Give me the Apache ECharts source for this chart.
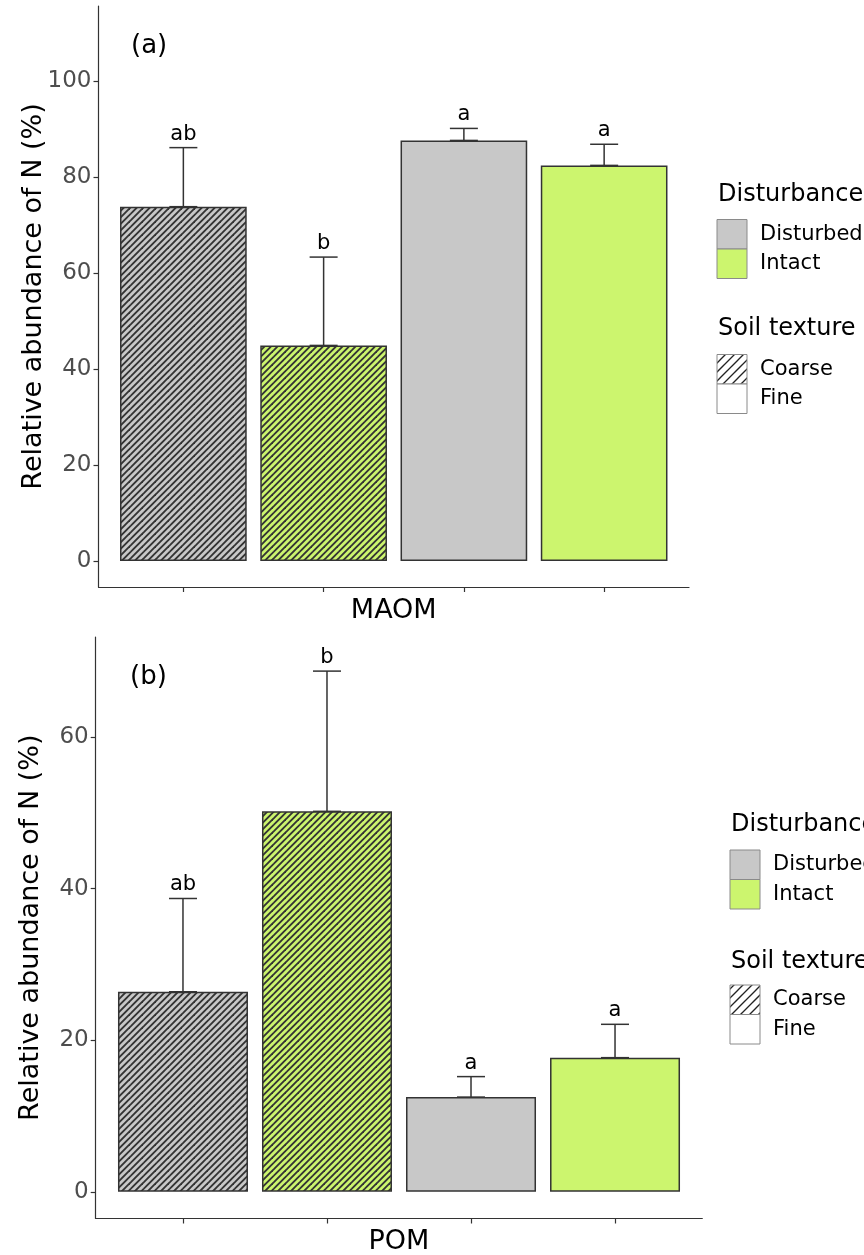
<!DOCTYPE html>
<html><head><meta charset="utf-8">
<script src="https://cdn.jsdelivr.net/npm/echarts@6/dist/echarts.min.js"></script>
<style>html,body{margin:0;padding:0;background:#fff}#c{width:864px;height:1255px}</style>
</head><body><div id="c"></div>
<script>
// ---- data ----
const positions = [1, 2, 3, 4];
const disturbance = ['Disturbed', 'Intact', 'Disturbed', 'Intact'];
const texture = ['Coarse', 'Coarse', 'Fine', 'Fine'];
const maomMean = [73.8, 44.9, 87.6, 82.4];
const maomUpper = [86.1, 63.3, 90.1, 86.8];
const maomLetters = ['ab', 'b', 'a', 'a'];
const pomMean = [26.4, 50.2, 12.5, 17.7];
const pomUpper = [38.7, 68.7, 15.2, 22.1];
const pomLetters = ['ab', 'b', 'a', 'a'];
const maomTicks = [0, 20, 40, 60, 80, 100];
const pomTicks = [0, 20, 40, 60];
const legendDist = ['Disturbed', 'Intact'];
const legendTex = ['Coarse', 'Fine'];

// ---- style ----
const FONT = 'DejaVu Sans';
const fillCol = { Disturbed: '#C8C8C8', Intact: '#CCF56E' };
const AX = '#333333';

function hatch(bg, size, gap, lw, col) {
  const c = document.createElement('canvas');
  c.width = size; c.height = size;
  const g = c.getContext('2d');
  g.fillStyle = bg; g.fillRect(0, 0, size, size);
  g.strokeStyle = col; g.lineWidth = lw;
  for (let k = -size; k <= size + 0.01; k += gap) {
    g.beginPath(); g.moveTo(k - 2, size + 2); g.lineTo(k + size + 2, -2); g.stroke();
  }
  return c;
}
const hatchCanvas = {
  Disturbed: hatch(fillCol.Disturbed, 13, 6.5, 1.9, '#333'),
  Intact: hatch(fillCol.Intact, 13, 6.5, 1.9, '#333')
};
const keyHatch = hatch('#ffffff', 18, 9, 1.3, '#222');

function barItems(means) {
  return means.map((v, i) => ({
    value: [positions[i], v],
    itemStyle: {
      color: texture[i] === 'Coarse'
        ? { image: hatchCanvas[disturbance[i]], repeat: 'repeat' }
        : fillCol[disturbance[i]],
      borderColor: AX, borderWidth: 1.5
    }
  }));
}
function errData(means, uppers) {
  return means.map((v, i) => [positions[i], v, uppers[i]]);
}
function errRender(letters) {
  return function (params, api) {
    const x = api.value(0), m = api.value(1), u = api.value(2);
    const pm = api.coord([x, m]), pu = api.coord([x, u]);
    const hw = 14;
    const st = { stroke: AX, lineWidth: 1.5 };
    return {
      type: 'group', children: [
        { type: 'line', shape: { x1: pm[0], y1: pm[1], x2: pu[0], y2: pu[1] }, style: st },
        { type: 'line', shape: { x1: pm[0] - hw, y1: pm[1], x2: pm[0] + hw, y2: pm[1] }, style: st },
        { type: 'line', shape: { x1: pu[0] - hw, y1: pu[1], x2: pu[0] + hw, y2: pu[1] }, style: st },
        { type: 'text', x: pu[0], y: pu[1] - 3,
          style: { text: letters[params.dataIndex], fill: '#000', fontSize: 21, fontFamily: FONT,
                   align: 'center', verticalAlign: 'bottom' } }
      ]
    };
  };
}

function xAx(gi, name, min, max) {
  return {
    type: 'value', gridIndex: gi, min: min, max: max,
    axisLine: { show: true, onZero: false, lineStyle: { color: AX, width: 1.2 } },
    axisTick: { show: true, customValues: positions, length: 5, lineStyle: { color: AX, width: 1.2 } },
    axisLabel: { show: false },
    splitLine: { show: false },
    name: name, nameLocation: 'middle', nameGap: 10, nameMoveOverlap: false,
    nameTextStyle: { fontFamily: FONT, fontSize: 27, color: '#000' }
  };
}
function yAx(gi, min, max, ticks) {
  return {
    type: 'value', gridIndex: gi, min: min, max: max,
    axisLine: { show: true, onZero: false, lineStyle: { color: AX, width: 1.2 } },
    axisTick: { show: true, customValues: ticks, length: 5, lineStyle: { color: AX, width: 1.2 } },
    axisLabel: { customValues: ticks, fontFamily: FONT, fontSize: 23, color: '#4d4d4d', margin: 7 },
    splitLine: { show: false },
    name: 'Relative abundance of N (%)', nameLocation: 'middle', nameGap: 51, nameMoveOverlap: false,
    nameTextStyle: { fontFamily: FONT, fontSize: 27, color: '#000' }
  };
}

function legend(x0, yTitle1, yKey1, yTitle2, yKey2) {
  const els = [];
  const kw = 30, kh = 29.5, lx = x0 + 43;
  els.push({ type: 'text', x: x0 + 1, y: yTitle1, style: { text: 'Disturbance', fontFamily: FONT, fontSize: 24, fill: '#000', verticalAlign: 'middle' } });
  legendDist.forEach((d, i) => {
    els.push({ type: 'rect', shape: { x: x0, y: yKey1 + i * kh, width: kw, height: kh }, style: { fill: fillCol[d], stroke: '#8a8a8a', lineWidth: 1 } });
    els.push({ type: 'text', x: lx, y: yKey1 + i * kh + kh / 2, style: { text: d, fontFamily: FONT, fontSize: 21, fill: '#000', verticalAlign: 'middle' } });
  });
  els.push({ type: 'text', x: x0 + 1, y: yTitle2, style: { text: 'Soil texture', fontFamily: FONT, fontSize: 24, fill: '#000', verticalAlign: 'middle' } });
  legendTex.forEach((t, i) => {
    els.push({ type: 'rect', shape: { x: x0, y: yKey2 + i * kh, width: kw, height: kh },
      style: { fill: t === 'Coarse' ? { image: keyHatch, repeat: 'repeat' } : '#ffffff', stroke: '#8a8a8a', lineWidth: 1 } });
    els.push({ type: 'text', x: lx, y: yKey2 + i * kh + kh / 2, style: { text: t, fontFamily: FONT, fontSize: 21, fill: '#000', verticalAlign: 'middle' } });
  });
  return els;
}

const chart = echarts.init(document.getElementById('c'), null, { renderer: 'canvas' });
chart.setOption({
  backgroundColor: '#ffffff',
  animation: false,
  grid: [
    { left: 98.5, top: 6, width: 590.5, height: 581, containLabel: false, outerBoundsMode: 'none' },
    { left: 95.7, top: 637, width: 606.6, height: 581.5, containLabel: false, outerBoundsMode: 'none' }
  ],
  xAxis: [xAx(0, 'MAOM', 0.395, 4.605), xAx(1, 'POM', 0.394, 4.606)],
  yAxis: [yAx(0, -5.42, 115.6, maomTicks), yAx(1, -3.52, 73.2, pomTicks)],
  series: [
    { type: 'bar', xAxisIndex: 0, yAxisIndex: 0, barWidth: 126.7, data: barItems(maomMean), z: 2 },
    { type: 'custom', xAxisIndex: 0, yAxisIndex: 0, data: errData(maomMean, maomUpper),
      encode: { x: 0, y: [1, 2] }, renderItem: errRender(maomLetters), z: 3 },
    { type: 'bar', xAxisIndex: 1, yAxisIndex: 1, barWidth: 130, data: barItems(pomMean), z: 2 },
    { type: 'custom', xAxisIndex: 1, yAxisIndex: 1, data: errData(pomMean, pomUpper),
      encode: { x: 0, y: [1, 2] }, renderItem: errRender(pomLetters), z: 3 }
  ],
  graphic: [
    { type: 'text', x: 131, y: 46, style: { text: '(a)', fontFamily: FONT, fontSize: 26, fill: '#000', verticalAlign: 'middle' } },
    { type: 'text', x: 130, y: 677, style: { text: '(b)', fontFamily: FONT, fontSize: 26, fill: '#000', verticalAlign: 'middle' } }
  ].concat(legend(717, 195, 219.5, 329, 354.5)).concat(legend(730, 825, 850, 962, 985))
});
</script>
</body></html>
